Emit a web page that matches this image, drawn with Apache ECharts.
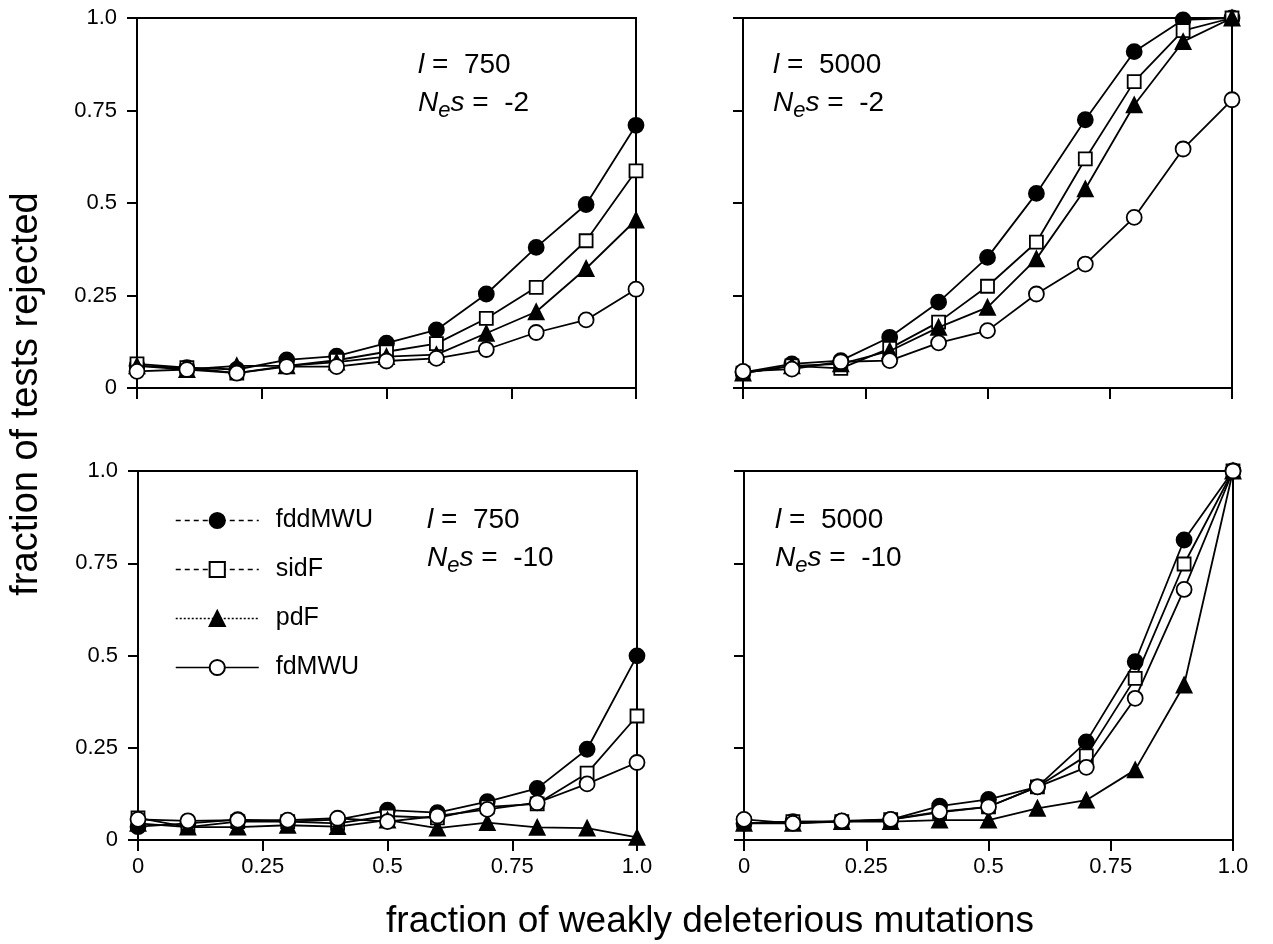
<!DOCTYPE html>
<html>
<head>
<meta charset="utf-8">
<script src="https://cdn.jsdelivr.net/npm/echarts@6/dist/echarts.min.js"></script>
<style>
  html, body { margin: 0; padding: 0; background: #fff; }
  #main { width: 1273px; height: 944px; }
</style>
</head>
<body>
<div id="main"></div>
<script>
// x positions: fraction of weakly deleterious mutations
var xs = [0, 0.1, 0.2, 0.3, 0.4, 0.5, 0.6, 0.7, 0.8, 0.9, 1.0];
var tickLabels = ['0', '0.25', '0.5', '0.75', '1.0'];
var names = ['fddMWU', 'sidF', 'pdF', 'fdMWU'];

// l = 750, Nes = -2
var tl_fddMWU = [0.06, 0.055, 0.05, 0.076, 0.086, 0.121, 0.157, 0.254, 0.38, 0.496, 0.71];
var tl_sidF   = [0.065, 0.055, 0.04, 0.06, 0.075, 0.098, 0.12, 0.188, 0.272, 0.398, 0.587];
var tl_pdF    = [0.06, 0.05, 0.06, 0.06, 0.07, 0.085, 0.09, 0.148, 0.206, 0.323, 0.454];
var tl_fdMWU  = [0.045, 0.05, 0.04, 0.058, 0.058, 0.073, 0.08, 0.104, 0.15, 0.184, 0.267];

// l = 5000, Nes = -2
var tr_fddMWU = [0.042, 0.065, 0.074, 0.137, 0.232, 0.353, 0.526, 0.725, 0.909, 0.995, 1.0];
var tr_sidF   = [0.04, 0.06, 0.053, 0.107, 0.178, 0.275, 0.394, 0.619, 0.828, 0.966, 1.0];
var tr_pdF    = [0.04, 0.06, 0.065, 0.1, 0.164, 0.218, 0.349, 0.538, 0.765, 0.936, 1.0];
var tr_fdMWU  = [0.045, 0.051, 0.071, 0.074, 0.122, 0.155, 0.254, 0.335, 0.461, 0.646, 0.779];

// l = 750, Nes = -10
var bl_fddMWU = [0.036, 0.045, 0.055, 0.05, 0.055, 0.081, 0.074, 0.104, 0.14, 0.246, 0.499];
var bl_sidF   = [0.06, 0.035, 0.05, 0.05, 0.045, 0.065, 0.06, 0.09, 0.098, 0.181, 0.336];
var bl_pdF    = [0.045, 0.035, 0.035, 0.04, 0.036, 0.054, 0.032, 0.047, 0.034, 0.032, 0.007];
var bl_fdMWU  = [0.056, 0.052, 0.054, 0.054, 0.059, 0.05, 0.065, 0.083, 0.101, 0.152, 0.21];

// l = 5000, Nes = -10
var br_fddMWU = [0.045, 0.05, 0.05, 0.055, 0.092, 0.11, 0.144, 0.266, 0.483, 0.813, 1.0];
var br_sidF   = [0.045, 0.05, 0.05, 0.055, 0.075, 0.09, 0.144, 0.228, 0.438, 0.748, 1.0];
var br_pdF    = [0.045, 0.045, 0.05, 0.05, 0.054, 0.054, 0.086, 0.108, 0.19, 0.42, 1.0];
var br_fdMWU  = [0.056, 0.045, 0.052, 0.056, 0.077, 0.09, 0.144, 0.197, 0.384, 0.679, 1.0];

var FONT = '"Liberation Sans", Arial, Helvetica, sans-serif';

var panels = [
    { grid: { left: 137, top: 18, width: 499, height: 370 }, xLab: false, yLab: true,
      data: [tl_fddMWU, tl_sidF, tl_pdF, tl_fdMWU], l: '750', nes: '-2', tx: 418, ty: 46 },
    { grid: { left: 743, top: 18, width: 489, height: 370 }, xLab: false, yLab: false,
      data: [tr_fddMWU, tr_sidF, tr_pdF, tr_fdMWU], l: '5000', nes: '-2', tx: 773, ty: 46 },
    { grid: { left: 138, top: 471, width: 499, height: 369 }, xLab: true, yLab: true,
      data: [bl_fddMWU, bl_sidF, bl_pdF, bl_fdMWU], l: '750', nes: '-10', tx: 427, ty: 501 },
    { grid: { left: 744, top: 471, width: 489, height: 369 }, xLab: true, yLab: false,
      data: [br_fddMWU, br_sidF, br_pdF, br_fdMWU], l: '5000', nes: '-10', tx: 775, ty: 501 }
];

// marker look for each test
var symbols = [
    { symbol: 'circle', symbolSize: 15, fill: '#000' },
    { symbol: 'rect', symbolSize: 13, fill: '#fff' },
    { symbol: 'triangle', symbolSize: 15, fill: '#000' },
    { symbol: 'circle', symbolSize: 15, fill: '#fff' }
];

function tickFmt(v) {
    return tickLabels[Math.round(v / 0.25)];
}

var grids = [], xAxes = [], yAxes = [], series = [], titles = [];
panels.forEach(function (p, k) {
    grids.push(Object.assign({ show: true, borderColor: '#000', borderWidth: 2, backgroundColor: 'transparent' }, p.grid));
    xAxes.push({
        type: 'value', gridIndex: k, min: 0, max: 1, interval: 0.25,
        axisLine: { lineStyle: { color: '#000', width: 2 } },
        axisTick: { length: 11, lineStyle: { color: '#000', width: 2 } },
        splitLine: { show: false },
        axisLabel: { show: p.xLab, formatter: tickFmt, color: '#000', fontSize: 22, fontFamily: FONT, margin: 16 }
    });
    yAxes.push({
        type: 'value', gridIndex: k, min: 0, max: 1, interval: 0.25,
        axisLine: { show: true, lineStyle: { color: '#000', width: 2 } },
        axisTick: { show: true, length: 10, lineStyle: { color: '#000', width: 2 } },
        splitLine: { show: false },
        axisLabel: { show: p.yLab, formatter: tickFmt, color: '#000', fontSize: 22, fontFamily: FONT, margin: 20 }
    });
    p.data.forEach(function (vals, j) {
        series.push({
            name: names[j], type: 'line', xAxisIndex: k, yAxisIndex: k,
            data: xs.map(function (x, i) { return [x, vals[i]]; }),
            symbol: symbols[j].symbol, symbolSize: symbols[j].symbolSize,
            showAllSymbol: true,
            lineStyle: { color: '#000', width: 1.8 },
            itemStyle: { color: symbols[j].fill, borderColor: '#000', borderWidth: 1.8, opacity: 1 },
            emphasis: { disabled: true },
            z: 2 + j
        });
    });
    titles.push({
        text: '{i|l}{n| =  ' + p.l + '}\n{i|N}{sub|e}{i|s}{n| =  ' + p.nes + '}',
        left: p.tx, top: p.ty, padding: 0,
        textStyle: {
            fontWeight: 'normal',
            rich: {
                i: { fontStyle: 'italic', fontWeight: 'normal', fontSize: 28, lineHeight: 38, fontFamily: FONT, color: '#000' },
                n: { fontWeight: 'normal', fontSize: 28, lineHeight: 38, fontFamily: FONT, color: '#000' },
                sub: { fontStyle: 'italic', fontWeight: 'normal', fontSize: 22, lineHeight: 18, verticalAlign: 'bottom', fontFamily: FONT, color: '#000' }
            }
        }
    });
});

var dashes = [[5, 4], [5, 4], [2, 2], 'solid'];

var myChart = echarts.init(document.getElementById('main'));
myChart.setOption({
    animation: false,
    backgroundColor: '#fff',
    title: titles,
    grid: grids,
    xAxis: xAxes,
    yAxis: yAxes,
    legend: {
        orient: 'vertical', left: 170, top: 503,
        itemWidth: 83, itemHeight: 19, itemGap: 24,
        selectedMode: false,
        data: names.map(function (n, j) {
            return { name: n, lineStyle: { type: dashes[j], width: 1.5, color: '#000' } };
        }),
        formatter: function (n) { return '{t|' + n + '}'; },
        textStyle: {
            rich: { t: { fontSize: 25, fontFamily: FONT, color: '#000', padding: [0, 0, 0, 12] } }
        }
    },
    graphic: [
        {
            type: 'text', x: 710, y: 922,
            style: { text: 'fraction of weakly deleterious mutations', font: '37px ' + FONT, fill: '#000', align: 'center', verticalAlign: 'middle' }
        },
        {
            type: 'text', x: 27, y: 394, rotation: Math.PI / 2,
            style: { text: 'fraction of tests rejected', font: '38px ' + FONT, fill: '#000', align: 'center', verticalAlign: 'middle' }
        }
    ],
    series: series
});
</script>
</body>
</html>
